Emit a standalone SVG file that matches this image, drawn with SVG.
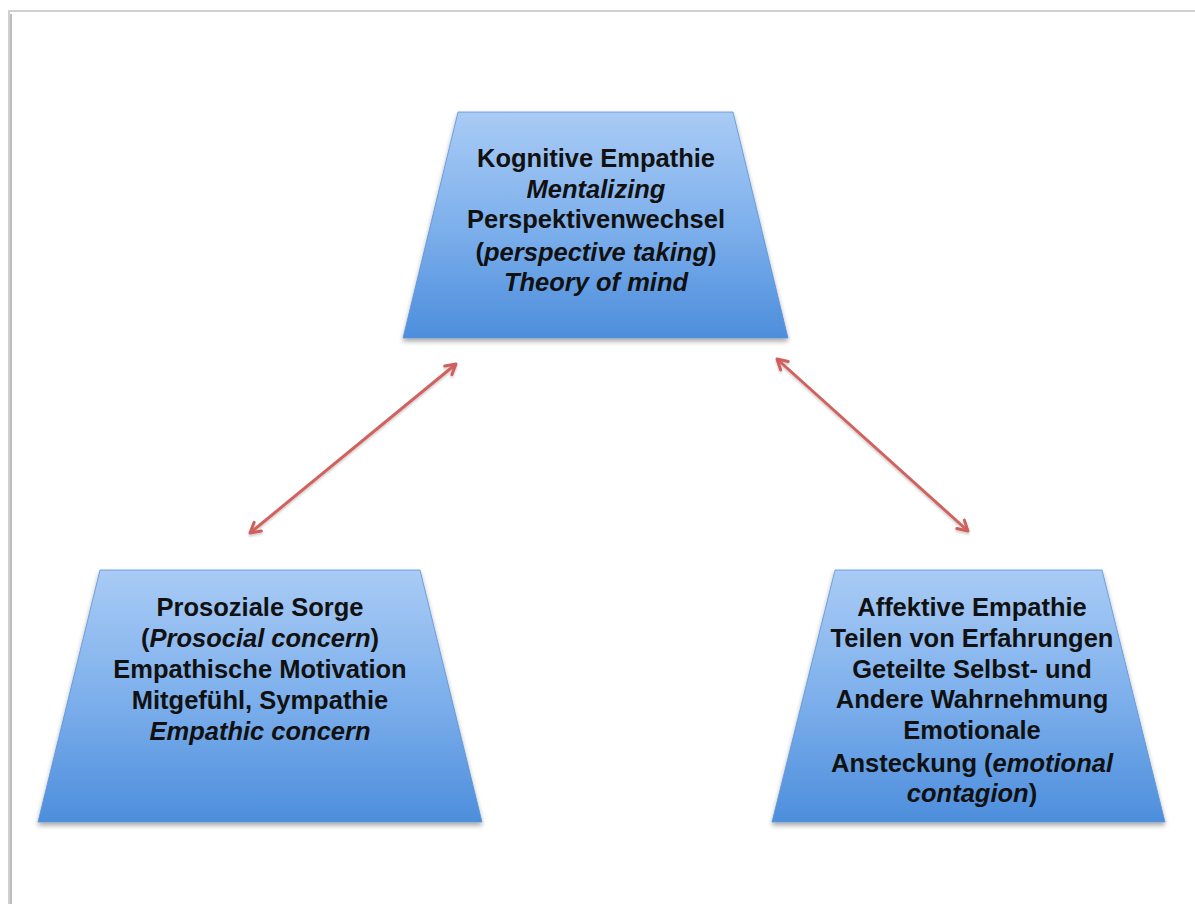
<svg xmlns="http://www.w3.org/2000/svg" width="1195" height="904" viewBox="0 0 1195 904">
<defs>
<linearGradient id="blue" x1="0" y1="0" x2="0" y2="1">
<stop offset="0" stop-color="#a9cbf5"/>
<stop offset="0.5" stop-color="#7eb0ec"/>
<stop offset="1" stop-color="#4d8edc"/>
</linearGradient>
<filter id="sh" x="-10%" y="-10%" width="120%" height="130%">
<feGaussianBlur in="SourceAlpha" stdDeviation="2.5"/>
<feOffset dx="0" dy="3" result="b"/>
<feComponentTransfer><feFuncA type="linear" slope="0.35"/></feComponentTransfer>
<feMerge><feMergeNode/><feMergeNode in="SourceGraphic"/></feMerge>
</filter>
<filter id="ash" x="-10%" y="-10%" width="120%" height="130%">
<feGaussianBlur in="SourceAlpha" stdDeviation="1.2"/>
<feOffset dx="0" dy="2" result="b"/>
<feComponentTransfer><feFuncA type="linear" slope="0.2"/></feComponentTransfer>
<feMerge><feMergeNode/><feMergeNode in="SourceGraphic"/></feMerge>
</filter>
<marker id="head" viewBox="0 0 12 12" refX="10" refY="6" markerWidth="5" markerHeight="5" orient="auto-start-reverse" markerUnits="strokeWidth">
<path d="M2,1.5 L10,6 L2,10.5" fill="none" stroke="#cf5f5b" stroke-width="2.4" stroke-linecap="round" stroke-linejoin="round"/>
</marker>
</defs>
<style>
.node{fill:url(#blue);stroke:#5b93d6;stroke-width:0.8;filter:url(#sh)}
.t{font-family:"Liberation Sans",Arial,sans-serif;font-weight:bold;font-size:25.5px;fill:#111;text-anchor:middle}
.i{font-style:italic}
.conn{stroke:#d0625e;stroke-width:3;fill:none;marker-start:url(#head);marker-end:url(#head);filter:url(#ash)}
</style>
<rect x="0" y="0" width="1195" height="904" fill="#ffffff"/>
<rect x="9" y="11" width="1190" height="900" fill="none" stroke="#d0d0d0" stroke-width="2"/>
<line x1="11" y1="14" x2="11" y2="904" stroke="#bdbdbd" stroke-width="2"/>
<g id="connectors">
<line class="conn" x1="250" y1="533" x2="456" y2="364"/>
<line class="conn" x1="777" y1="359" x2="968" y2="531"/>
<line class="conn" x1="464" y1="663" x2="770" y2="663"/>
</g>
<g id="kognitive">
<polygon class="node" points="458,112 733,112 788,338 403,338"/>
<text class="t" x="596" y="167">Kognitive Empathie</text>
<text class="t i" x="596" y="198">Mentalizing</text>
<text class="t" x="596" y="228">Perspektivenwechsel</text>
<text class="t" x="596" y="261">(<tspan class="i">perspective taking</tspan>)</text>
<text class="t i" x="596" y="291">Theory of mind</text>
</g>
<g id="prosozial">
<polygon class="node" points="100,570 420,570 482,822 38,822"/>
<text class="t" x="260" y="616">Prosoziale Sorge</text>
<text class="t" x="260" y="647">(<tspan class="i">Prosocial concern</tspan>)</text>
<text class="t" x="260" y="678">Empathische Motivation</text>
<text class="t" x="260" y="709">Mitgefühl, Sympathie</text>
<text class="t i" x="260" y="740">Empathic concern</text>
</g>
<g id="affektiv">
<polygon class="node" points="835,570 1102,570 1165,822 772,822"/>
<text class="t" x="972" y="616">Affektive Empathie</text>
<text class="t" x="972" y="647">Teilen von Erfahrungen</text>
<text class="t" x="972" y="678">Geteilte Selbst- und</text>
<text class="t" x="972" y="708">Andere Wahrnehmung</text>
<text class="t" x="972" y="739">Emotionale</text>
<text class="t" x="972" y="772">Ansteckung (<tspan class="i">emotional</tspan></text>
<text class="t" x="972" y="802"><tspan class="i">contagion</tspan>)</text>
</g>
</svg>
